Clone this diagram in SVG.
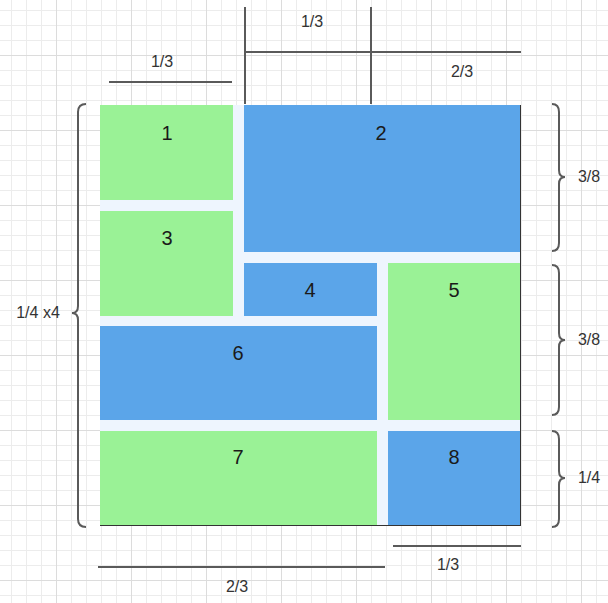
<svg xmlns="http://www.w3.org/2000/svg" width="608" height="603" viewBox="0 0 608 603">
  <defs>
    <pattern id="minor" width="15" height="15" x="11" y="10" patternUnits="userSpaceOnUse">
      <path d="M0.5 0 V15 M0 0.5 H15" stroke="#ececec" stroke-width="1" fill="none"/>
    </pattern>
    <pattern id="major" width="75" height="75" x="56" y="55" patternUnits="userSpaceOnUse">
      <path d="M0.5 0 V75 M0 0.5 H75" stroke="#dcdcdc" stroke-width="1" fill="none"/>
    </pattern>
    <style>
      .green { fill: #9AF296; }
      .blue { fill: #5BA5E9; }
      .num { font-family: "Liberation Sans", Arial, sans-serif; font-size: 20px; fill: #1a1a1a; text-anchor: middle; }
      .dim { font-family: "Liberation Sans", Arial, sans-serif; font-size: 16px; fill: #333333; text-anchor: middle; }
      .line { stroke: #5a5a5a; stroke-width: 2; fill: none; }
    </style>
  </defs>
  <rect width="608" height="603" fill="#ffffff"/>
  <rect width="608" height="603" fill="url(#minor)"/>
  <rect width="608" height="603" fill="url(#major)"/>

  <g id="container">
    <rect x="100" y="105" width="420" height="421" fill="#EEF5FE"/>
    <path d="M520.5 105 V526 M100 525.5 H521" stroke="#333333" stroke-width="1" fill="none"/>
  </g>

  <g id="n1"><rect class="green" x="100" y="105" width="133" height="95"/><text class="num" x="167" y="140">1</text></g>
  <g id="n2"><rect class="blue" x="244" y="105" width="276" height="147"/><text class="num" x="381" y="140">2</text></g>
  <g id="n3"><rect class="green" x="100" y="211" width="133" height="105"/><text class="num" x="167" y="245">3</text></g>
  <g id="n4"><rect class="blue" x="244" y="263" width="133" height="53"/><text class="num" x="310" y="297">4</text></g>
  <g id="n5"><rect class="green" x="388" y="263" width="132" height="157"/><text class="num" x="454" y="297">5</text></g>
  <g id="n6"><rect class="blue" x="100" y="326" width="277" height="94"/><text class="num" x="238" y="360">6</text></g>
  <g id="n7"><rect class="green" x="100" y="431" width="277" height="94"/><text class="num" x="238" y="464">7</text></g>
  <g id="n8"><rect class="blue" x="388" y="431" width="132" height="94"/><text class="num" x="454" y="464">8</text></g>

  <g id="connectors">
    <path class="line" d="M245 7 V104 M371 7 V104 M245 52 H521"/>
    <path class="line" d="M109 82 H232"/>
    <path class="line" d="M98 567 H385"/>
    <path class="line" d="M393 546 H521"/>
    <path class="line" d="M552 104 Q559 104 559 112 L559 170 Q559 177 565 177 Q559 177 559 184 L559 243 Q559 251 552 251"/>
    <path class="line" d="M552 265 Q559 265 559 273 L559 333 Q559 340 565 340 Q559 340 559 347 L559 407 Q559 415 552 415"/>
    <path class="line" d="M552 431 Q559 431 559 439 L559 471 Q559 478 565 478 Q559 478 559 485 L559 519 Q559 527 552 527"/>
    <path class="line" d="M86 104 Q78 104 78 112 L78 306 Q78 313 72 313 Q78 313 78 320 L78 519 Q78 527 86 527"/>
  </g>

  <g id="labels">
    <text class="dim" x="312" y="27">1/3</text>
    <text class="dim" x="462" y="77">2/3</text>
    <text class="dim" x="162" y="67">1/3</text>
    <text class="dim" x="589" y="182">3/8</text>
    <text class="dim" x="589" y="345">3/8</text>
    <text class="dim" x="589" y="483">1/4</text>
    <text class="dim" x="38" y="318">1/4 x4</text>
    <text class="dim" x="237" y="592">2/3</text>
    <text class="dim" x="448" y="570">1/3</text>
  </g>
</svg>
